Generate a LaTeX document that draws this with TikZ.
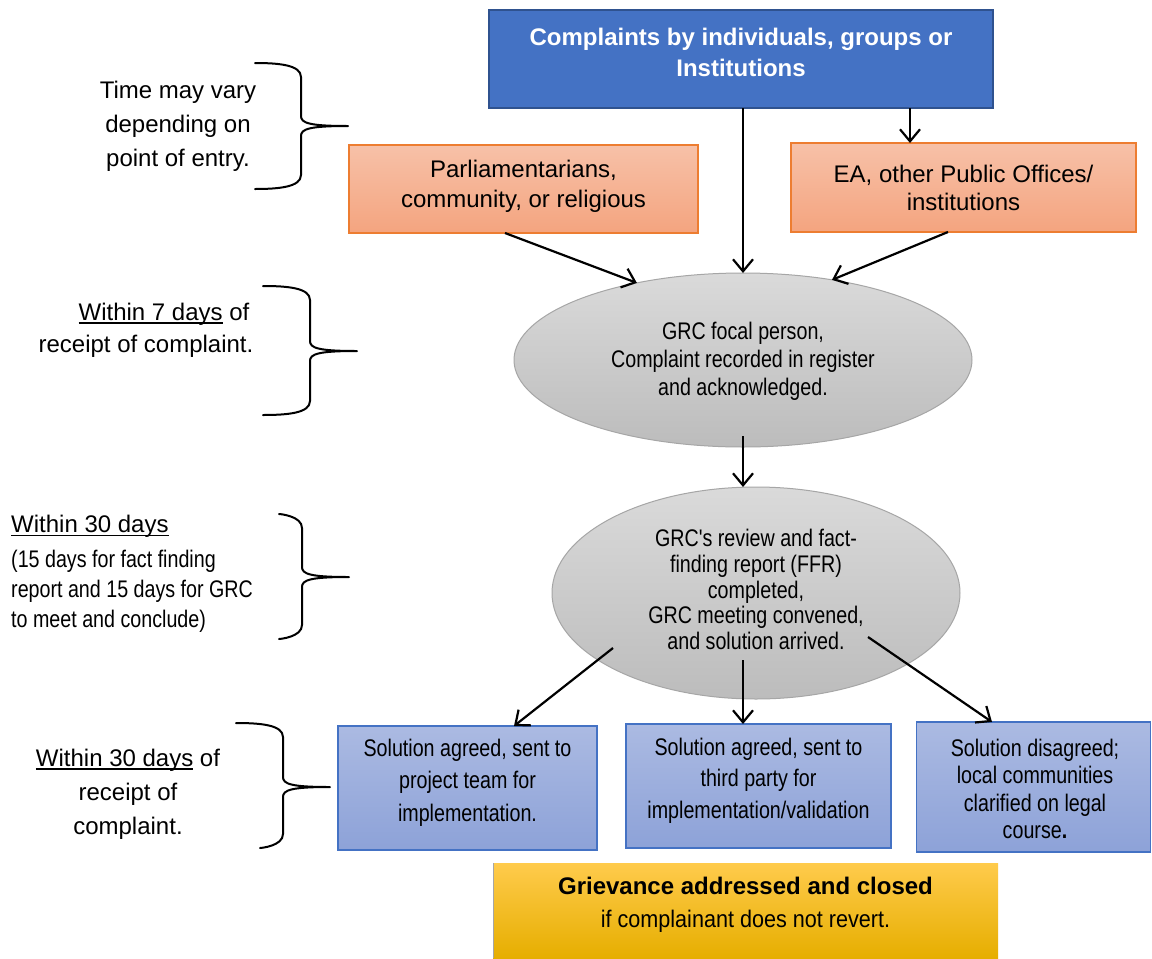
\documentclass[tikz,border=0pt]{standalone}
\usepackage{fontspec}
\setmainfont{Liberation Sans}
\newfontfamily\narrowfont{Liberation Sans}[FakeStretch=0.82]
\newfontfamily\semifont{Liberation Sans}[FakeStretch=0.9]
\usetikzlibrary{arrows.meta,shapes.geometric,calc}

\definecolor{topblue}{HTML}{4472C4}
\definecolor{topedge}{HTML}{2F528F}
\definecolor{orgtop}{HTML}{F7C1A8}
\definecolor{orgbot}{HTML}{F4A47F}
\definecolor{orgedge}{HTML}{ED7D31}
\definecolor{greytop}{HTML}{DADADA}
\definecolor{greybot}{HTML}{BCBCBC}
\definecolor{greyedge}{HTML}{A6A6A6}
\definecolor{bluetop}{HTML}{ABBAE2}
\definecolor{bluebot}{HTML}{8DA2D8}
\definecolor{blueedge}{HTML}{4472C4}
\definecolor{goldtop}{HTML}{FFCB4C}
\definecolor{goldmid}{HTML}{FFC000}
\definecolor{goldbot}{HTML}{E6AE00}

% underline drawn as a rule under a word group
\newcommand\undl[1]{\setbox0\hbox{#1}\rlap{\rule[-3.5pt]{\wd0}{1.6pt}}\box0\relax}

% curly brace: left ends, vertical spine and tip
\newcommand\grbrace[7]{%
  \draw[brc] (#1,#2) .. controls (#5-22,#2) and (#5,#2+2) .. (#5,#2+14)
    -- (#5,#6-10) .. controls (#5,#6-3) and (#5+8,#6) .. (#7,#6)
    .. controls (#5+8,#6) and (#5,#6+3) .. (#5,#6+10)
    -- (#5,#4-14) .. controls (#5,#4-2) and (#5-22,#4) .. (#3,#4);}

\begin{document}
\begin{tikzpicture}[x=1pt,y=-1pt,
  shp/.style={inner sep=0pt,outer sep=0pt},
  topbox/.style={shp,rectangle,fill=topblue,draw=topedge,line width=2.2pt},
  orgbox/.style={shp,rectangle,top color=orgtop,bottom color=orgbot,draw=orgedge,line width=1.4pt},
  greyell/.style={shp,ellipse,top color=greytop,bottom color=greybot,draw=greyedge,line width=1pt},
  bluebox/.style={shp,rectangle,top color=bluetop,bottom color=bluebot,draw=blueedge,line width=1.4pt},
  goldbox/.style={shp,rectangle,top color=goldtop,middle color=goldmid,bottom color=goldbot},
  lbl/.style={inner sep=0pt,align=center},
  arr/.style={line width=2.2pt,-{Straight Barb[length=12pt,width=20pt]}},
  brc/.style={line width=2pt,line cap=round,line join=round}]

\useasboundingbox[fill=white] (0,0) rectangle (1152,959);

% top source box
\node[topbox,minimum width=504pt,minimum height=98pt] (top) at (741,59) {};
\node[lbl,text=white,font=\bfseries\fontsize{24}{31}\selectfont] (toptxt) at (741,52)
  {Complaints by individuals, groups or\\Institutions};

% intermediate entry points
\node[orgbox,minimum width=349pt,minimum height=88pt] (oleft) at (523.5,189) {};
\node[lbl,font=\fontsize{24}{30}\selectfont] (olefttxt) at (523.5,186)
  {Parliamentarians,\\community, or religious};
\node[orgbox,minimum width=345pt,minimum height=89pt] (oright) at (963.5,187.5) {};
\node[lbl,font=\fontsize{24}{28.5}\selectfont] (orighttxt) at (963.5,188)
  {EA, other Public Offices/\\institutions};

% GRC steps
\node[greyell,minimum width=458pt,minimum height=174pt] (e1) at (743,360) {};
\node[lbl,font=\narrowfont\fontsize{24}{28}\selectfont] (e1txt) at (743,361)
  {GRC focal person,\\Complaint recorded in register\\and acknowledged.};
\node[greyell,minimum width=408pt,minimum height=212pt] (e2) at (756,593) {};
\node[lbl,font=\narrowfont\fontsize{24}{25.7}\selectfont] (e2txt) at (756,589.5)
  {GRC's review and fact-\\finding report (FFR)\\completed,\\GRC meeting convened,\\and solution arrived.};

% outcomes
\node[bluebox,minimum width=259pt,minimum height=124pt] (b1) at (467.5,788) {};
\node[lbl,font=\narrowfont\fontsize{24}{32.5}\selectfont] (b1txt) at (467.5,782.5)
  {Solution agreed, sent to\\project team for\\implementation.};
\node[bluebox,minimum width=265pt,minimum height=124pt] (b2) at (758.5,786) {};
\node[lbl,font=\narrowfont\fontsize{24}{31.5}\selectfont] (b2txt) at (758.5,780.5)
  {Solution agreed, sent to\\third party for\\implementation/validation};
\node[bluebox,minimum width=234pt,minimum height=130pt] (b3) at (1033.5,787) {};
\node[lbl,font=\narrowfont\fontsize{24}{27.5}\selectfont] (b3txt) at (1035,789)
  {Solution disagreed;\\local communities\\clarified on legal\\course\textbf{.}};

% closing box
\node[goldbox,minimum width=505pt,minimum height=95pt] (gold) at (745.5,910.5) {};
\draw[line width=1pt,color=gray!70] (gold.north west) -- (gold.south west);
\node[lbl,font=\fontsize{24}{33}\selectfont] (goldtxt) at (745.5,904.5)
  {\textbf{Grievance addressed and closed}\\{\semifont if complainant does not revert.}};

% connectors
\draw[arr] (e1.north |- top.south) -- (e1.north);
\draw[arr] ($(top.south east)+(-83,0)$) -- ($(oright.north west)+(119,0)$);
\draw[arr] ($(oleft.south)+(-18.5,0)$) -- (e1.144);
\draw[arr] ($(oright.south)+(-15.5,0)$) -- (e1.42);
\draw[arr] ($(e1.south)+(0,-11)$) -- (e1.south |- e2.north);
\draw[arr] ($(e2.center)+(-143,55)$) -- ($(b1.north)+(46.5,0)$);
\draw[arr] ($(e2.center)+(-13,67)$) -- ($(b2.north)+(-15.5,0)$);
\draw[arr] ($(e2.center)+(112,44)$) -- ($(b3.north)+(-41.5,0)$);

% time notes at the left
\node[lbl,font=\fontsize{24}{34}\selectfont] (note1) at (178,126)
  {Time may vary\\depending on\\point of entry.};
\node[lbl,font=\fontsize{24}{32}\selectfont] (note2) at (146,330)
  {\hspace*{36pt}\undl{Within 7 days} of\\receipt of complaint.};
\node[inner sep=0pt,align=left,anchor=west,font=\fontsize{24}{30}\selectfont] (note3) at (11,574)
  {\undl{Within 30 days}\\[5pt]{\narrowfont (15 days for fact finding}\\{\narrowfont report and 15 days for GRC}\\{\narrowfont to meet and conclude)}};
\node[lbl,font=\fontsize{24}{34}\selectfont] (note4) at (128,794)
  {\undl{Within 30 days} of\\receipt of\\complaint.};

% braces
\grbrace{255}{63}{255}{189}{301}{126}{348}
\grbrace{263}{286}{263}{415}{310}{351}{357}
\grbrace{279}{514}{279}{639}{302}{577}{349}
\grbrace{236}{723}{260}{848}{283}{787}{330}
\end{tikzpicture}
\end{document}
